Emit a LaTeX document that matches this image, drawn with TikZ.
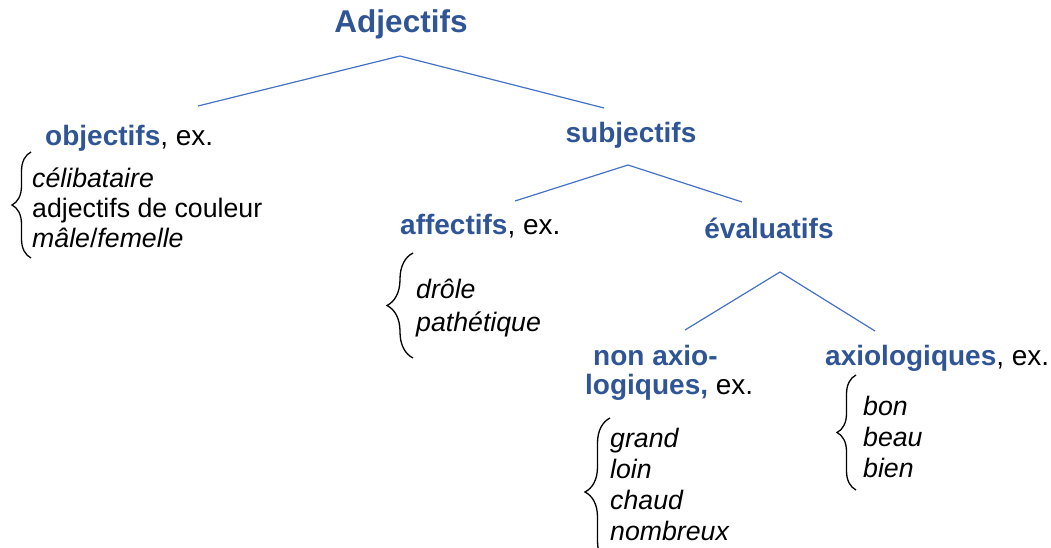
\documentclass[tikz,border=0pt]{standalone}
\usepackage{fontspec}
\setmainfont{Liberation Sans}
\usetikzlibrary{decorations.pathreplacing}
\definecolor{tblue}{HTML}{2F5597}
\definecolor{lblue}{HTML}{4472C4}
\newcommand\kw[1]{\textcolor{tblue}{\textbf{#1}}}
\tikzset{
  titlestyle/.style={font=\fontsize{31.5}{36}\selectfont\bfseries, text=tblue, inner sep=0pt, anchor=base},
  lab/.style={font=\fontsize{28}{32}\selectfont, inner sep=0pt, anchor=base west},
  item/.style={font=\fontsize{26.7}{30}\selectfont, inner sep=0pt, anchor=base west},
  conn/.style={draw=lblue, line width=1.2pt},
  brc/.style={draw=black, line width=1.3pt, decorate, decoration={brace, amplitude=#1}},
}
\begin{document}
\begin{tikzpicture}[x=1pt,y=-1pt]
\useasboundingbox (0,0) rectangle (1051,548);
\clip (0,0) rectangle (1051,548);
% labels
\node[titlestyle] (adj) at (401,33) {Adjectifs};
\node[lab] (obj) at (45,146) {\kw{objectifs}, ex.};
\node[lab, anchor=base] (subj) at (631,143) {\kw{subjectifs}};
\node[lab] (aff) at (400,234) {\kw{affectifs}, ex.};
\node[lab, anchor=base] (eval) at (769,238) {\kw{évaluatifs}};
\node[lab] (nonax1) at (593,365) {\kw{non axio-}};
\node[lab] (nonax2) at (585,394) {\kw{logiques,} ex.};
\node[lab] (axio) at (825,365) {\kw{axiologiques}, ex.};
% items
\node[item] (i1) at (32,187) {\textit{célibataire}};
\node[item] (i2) at (32,217) {adjectifs de couleur};
\node[item] (i3) at (32,247) {\textit{mâle}/\textit{femelle}};
\node[item] (i4) at (416,298) {\textit{drôle}};
\node[item] (i5) at (416,331) {\textit{pathétique}};
\node[item] (i6) at (610,447) {\textit{grand}};
\node[item] (i7) at (610,478) {\textit{loin}};
\node[item] (i8) at (610,509) {\textit{chaud}};
\node[item] (i9) at (610,540) {\textit{nombreux}};
\node[item] (i10) at (863,415) {\textit{bon}};
\node[item] (i11) at (863,446) {\textit{beau}};
\node[item] (i12) at (863,477) {\textit{bien}};
% connector points
\coordinate (adjS) at (400,56);
\coordinate (objN) at (198,106);
\coordinate (subN) at (604,108);
\coordinate (subS) at (628,165);
\coordinate (affN) at (515,201);
\coordinate (evaN) at (742,202);
\coordinate (evaS) at (780,272);
\coordinate (nonN) at (685,330);
\coordinate (axN) at (875,331);
\draw[conn] (objN) -- (adjS) -- (subN);
\draw[conn] (affN) -- (subS) -- (evaN);
\draw[conn] (nonN) -- (evaS) -- (axN);
% braces
\coordinate (b1b) at (31,258); \coordinate (b1t) at (31,152);
\coordinate (b2b) at (413,358); \coordinate (b2t) at (413,253);
\coordinate (b3b) at (610,566); \coordinate (b3t) at (610,418);
\coordinate (b4b) at (856,490); \coordinate (b4t) at (856,375);
\draw[brc=19] (b1b) -- (b1t);
\draw[brc=26] (b2b) -- (b2t);
\draw[brc=25] (b3b) -- (b3t);
\draw[brc=19] (b4b) -- (b4t);
\end{tikzpicture}
\end{document}
